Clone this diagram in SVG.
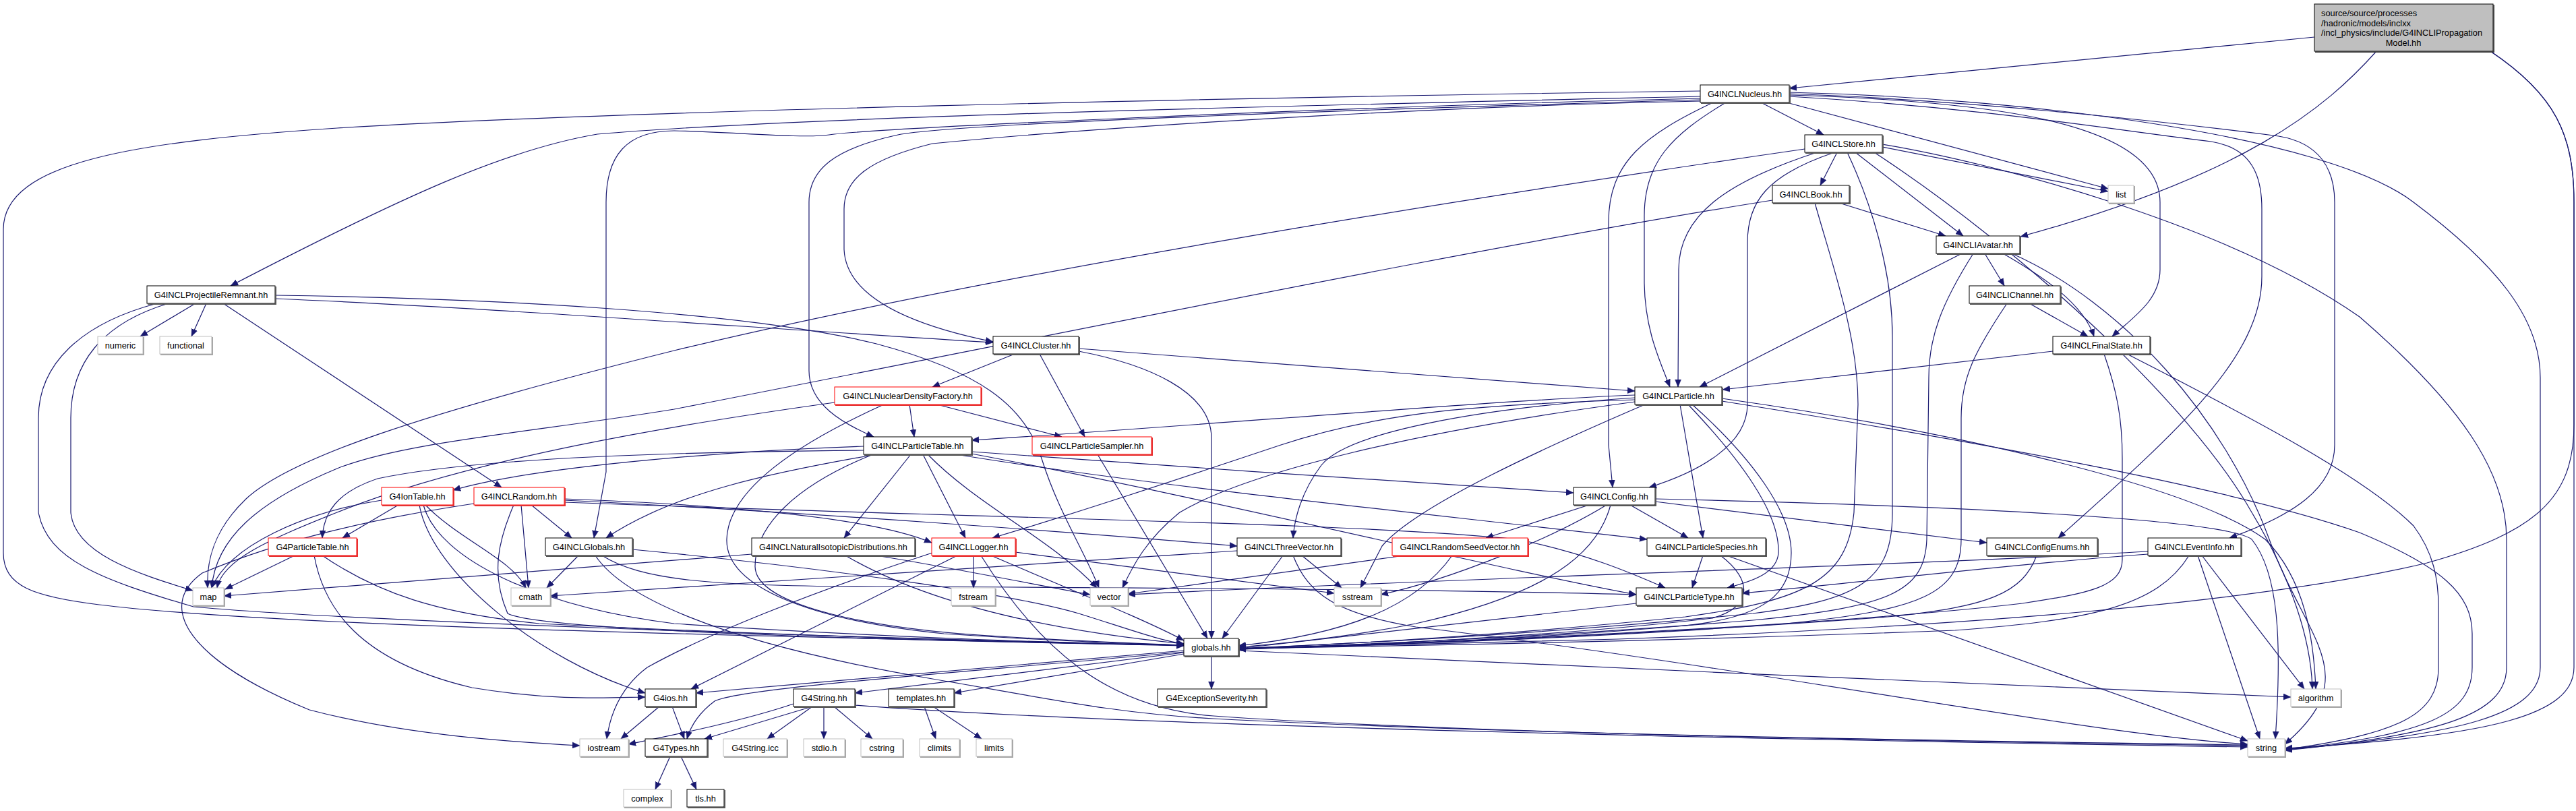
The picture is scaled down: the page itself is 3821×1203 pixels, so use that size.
<svg xmlns="http://www.w3.org/2000/svg" width="3821" height="1203" viewBox="0 0 3821 1203">
<defs>
<marker id="a" markerUnits="userSpaceOnUse" markerWidth="12" markerHeight="10" viewBox="0 -5 12 10" refX="11" refY="0" orient="auto"><path d="M0,-4.5 L11,0 L0,4.5 z" fill="#191970" stroke="#191970" stroke-width="0.5"/></marker>
</defs>
<style>
.e{fill:none;stroke:#191970;stroke-width:1.2;marker-end:url(#a)}
.nd rect{fill:#fff;stroke-width:1}
.nd .s{fill:none;stroke-width:2}
.b rect{stroke:#000}.b .s{stroke:#555}
.x rect{stroke:#bfbfbf}.x .s{stroke:#a8a8a8}
.r rect{stroke:#ff0000}.r .s{stroke:#e83030}
.g rect{fill:#bfbfbf;stroke:#000}.g .s{stroke:#404040}
text{font-family:"Liberation Sans",Arial,sans-serif;font-size:12.8px;fill:#000}
.nd text{text-anchor:middle}
.g text{text-anchor:start}
</style>
<rect x="0" y="0" width="3821" height="1203" fill="#fff"/>
<g id="edges">
<path class="e" d="M3433,55 L2654,131"/>
<path class="e" d="M3525,76 C3450,160 3330,260 2997,351"/>
<path class="e" d="M3694,76 C3790,140 3818,200 3818,300 L3818,990 C3818,1060 3700,1092 3389,1110"/>
<path class="e" d="M3694,76 C3790,140 3818,200 3818,300 L3818,630 C3818,740 3760,790 3600,835 C3350,895 2900,930 2400,948 C2100,957 1950,960 1837,962"/>
<path class="e" d="M2612,152 L2705,200"/>
<path class="e" d="M2560,152 C2480,200 2439,240 2439,320 L2439,420 C2440,490 2462,535 2477,574"/>
<path class="e" d="M2541,152 C2440,200 2386,240 2386,330 L2386,660 L2392,723"/>
<path class="e" d="M2650,152 L3127,280"/>
<path class="e" d="M2654,141 C2950,150 3204,180 3204,300 L3204,400 C3204,445 3165,470 3133,499"/>
<path class="e" d="M2654,143 C2950,160 3150,195 3280,210 C3340,220 3355,260 3355,310 L3355,410 C3355,530 3230,640 3053,798"/>
<path class="e" d="M2654,139 C2950,150 3250,185 3380,202 C3440,212 3463,250 3463,300 L3463,660 C3463,725 3400,765 3307,798"/>
<path class="e" d="M2654,137 C3000,145 3450,200 3580,300 C3700,390 3768,470 3768,560 L3768,990 C3768,1060 3650,1090 3389,1112"/>
<path class="e" d="M2522,143 C2000,155 1200,172 886,199 C750,222 600,290 342,424"/>
<path class="e" d="M2522,135 C1800,145 900,165 500,190 C200,210 5,240 5,340 L5,820 C5,870 50,885 147,897 C350,922 800,935 1200,945 C1450,951 1650,956 1756,958"/>
<path class="e" d="M2522,146 C2000,158 1300,190 1230,200 C1190,206 1080,195 1000,194 C930,194 899,230 899,300 L899,700 L881,798"/>
<path class="e" d="M2522,148 C2100,160 1420,182 1332,200 C1240,220 1200,250 1200,300 L1200,550 C1200,600 1250,628 1296,648"/>
<path class="e" d="M2522,150 C2200,156 1700,182 1383,213 C1290,236 1252,265 1252,310 L1252,370 C1255,440 1350,482 1473,507"/>
<path class="e" d="M2725,226 L2700,275"/>
<path class="e" d="M2752,226 L2912,350"/>
<path class="e" d="M2695,226 C2560,270 2490,320 2490,400 L2489,574"/>
<path class="e" d="M2721,226 C2620,260 2592,300 2592,360 L2592,600 C2592,660 2520,700 2446,723"/>
<path class="e" d="M2677,221 C2200,290 1500,400 1000,520 C620,615 430,680 365,740 C318,785 306,830 308,872"/>
<path class="e" d="M2740,226 C2775,300 2807,400 2807,500 L2807,760 C2807,860 2760,890 2600,910 C2300,940 2000,955 1837,962"/>
<path class="e" d="M2792,218 L3127,284"/>
<path class="e" d="M2792,214 C2950,240 3300,330 3500,470 C3650,600 3718,700 3718,800 L3718,990 C3718,1060 3620,1090 3389,1113"/>
<path class="e" d="M2780,226 C3000,370 3250,600 3340,760 C3400,860 3428,950 3430,1022"/>
<path class="e" d="M2728,301 L2886,350"/>
<path class="e" d="M2629,297 C2200,365 1600,490 1000,607 C800,640 600,655 500,695 C380,745 320,800 314,872"/>
<path class="e" d="M2692,301 C2720,400 2756,500 2756,600 L2750,760 C2740,860 2680,890 2500,915 C2200,945 2000,955 1837,962"/>
<path class="e" d="M2910,376 L2521,574"/>
<path class="e" d="M2927,376 C2880,450 2861,500 2861,560 L2858,800 C2855,880 2800,900 2600,920 C2300,945 2000,957 1837,963"/>
<path class="e" d="M2944,376 L2973,424"/>
<path class="e" d="M2971,376 C3030,410 3090,450 3106,499"/>
<path class="e" d="M2984,376 C3150,450 3300,620 3366,800 C3420,950 3510,1000 3389,1104"/>
<path class="e" d="M3045,521 L2555,578"/>
<path class="e" d="M3155,525 C3300,600 3500,700 3580,780 C3610,820 3617,860 3617,900 L3617,990 C3617,1060 3560,1088 3389,1112"/>
<path class="e" d="M3121,525 C3140,580 3148,620 3148,680 L3148,830 C3148,870 3100,880 3000,895 C2700,930 2100,955 1837,963"/>
<path class="e" d="M3010,450 L3097,499"/>
<path class="e" d="M2977,450 C2930,520 2909,560 2909,620 L2909,800 C2909,880 2850,905 2650,925 C2350,948 2000,958 1837,963"/>
<path class="e" d="M1505,525 L1383,574"/>
<path class="e" d="M1542,525 L1609,648"/>
<path class="e" d="M1600,517 L2425,580"/>
<path class="e" d="M1600,521 C1700,540 1797,580 1797,650 L1797,947"/>
<path class="e" d="M1349,600 L1356,648"/>
<path class="e" d="M1390,600 L1575,648"/>
<path class="e" d="M1238,597 C1000,630 700,680 500,760 C400,800 330,830 322,872"/>
<path class="e" d="M1311,600 C1200,650 1080,720 1078,800 C1076,870 1200,920 1400,940 C1550,950 1680,955 1756,957"/>
<path class="e" d="M1628,674 L1791,947"/>
<path class="e" d="M2425,586 C2200,595 1800,630 1441,653"/>
<path class="e" d="M2425,590 C2200,605 2000,640 1960,690 C1930,730 1920,770 1918,798"/>
<path class="e" d="M2425,593 C2200,600 2050,610 1900,660 C1750,710 1600,760 1472,798"/>
<path class="e" d="M2425,596 C2100,640 1850,700 1750,760 C1700,800 1680,840 1665,872"/>
<path class="e" d="M2440,600 C2300,660 2100,750 2050,810 L2018,872"/>
<path class="e" d="M2492,600 L2526,798"/>
<path class="e" d="M2504,600 C2580,680 2640,760 2638,820 C2636,850 2600,862 2562,872"/>
<path class="e" d="M2510,600 C2600,680 2657,760 2657,820 C2657,880 2620,915 2500,928 C2250,950 2000,958 1837,962"/>
<path class="e" d="M2554,595 C2900,650 3300,720 3500,790 C3620,840 3667,880 3667,940 L3667,990 C3667,1060 3600,1090 3389,1112"/>
<path class="e" d="M2554,591 C2900,640 3250,720 3360,800 C3420,860 3432,950 3435,1022"/>
<path class="e" d="M2357,749 L2204,798"/>
<path class="e" d="M2418,749 L2504,798"/>
<path class="e" d="M2455,744 L2947,805"/>
<path class="e" d="M2455,740 C2900,750 3300,770 3340,800 C3380,850 3385,950 3375,1096"/>
<path class="e" d="M2383,749 C2300,800 2150,860 2048,882"/>
<path class="e" d="M2389,749 C2370,820 2300,880 2100,925 C2000,945 1900,955 1837,960"/>
<path class="e" d="M1281,662 C1100,668 800,690 672,727"/>
<path class="e" d="M1281,668 C1000,670 700,680 560,710 C500,730 480,760 478,798"/>
<path class="e" d="M1300,674 C1150,700 1000,730 899,798"/>
<path class="e" d="M1351,674 L1252,798"/>
<path class="e" d="M1369,674 L1432,798"/>
<path class="e" d="M1376,674 C1450,750 1560,800 1627,872"/>
<path class="e" d="M1295,674 C1180,720 1120,780 1120,840 C1120,900 1300,935 1500,945 C1620,952 1700,955 1756,957"/>
<path class="e" d="M1441,670 C1700,690 2100,715 2334,731"/>
<path class="e" d="M1418,674 C1700,720 2100,760 2443,800"/>
<path class="e" d="M1441,673 C1800,740 2200,840 2427,882"/>
<path class="e" d="M591,749 L508,798"/>
<path class="e" d="M622,749 C640,850 800,980 957,1028"/>
<path class="e" d="M631,749 C680,800 760,830 780,872"/>
<path class="e" d="M628,749 C650,830 800,900 1000,925 C1300,945 1600,955 1756,957"/>
<path class="e" d="M566,742 C450,760 340,810 314,872"/>
<path class="e" d="M788,749 L848,798"/>
<path class="e" d="M837,742 C1200,760 1600,790 1835,810"/>
<path class="e" d="M837,745 C1500,770 2000,775 2250,800 C2350,820 2420,850 2470,872"/>
<path class="e" d="M703,747 C550,770 420,800 300,850 C230,900 280,980 459,1053 C600,1090 750,1100 860,1106"/>
<path class="e" d="M773,749 L784,872"/>
<path class="e" d="M762,749 C740,800 727,850 753,910 C800,935 1300,950 1756,957"/>
<path class="e" d="M837,740 C1100,750 1300,770 1382,805"/>
<path class="e" d="M437,824 L334,874"/>
<path class="e" d="M466,824 C480,900 530,980 700,1020 C820,1040 900,1035 957,1034"/>
<path class="e" d="M478,824 C560,880 650,910 800,925 C1200,945 1600,955 1756,957"/>
<path class="e" d="M858,824 L811,872"/>
<path class="e" d="M938,815 C1200,840 1500,880 1600,910 C1680,935 1720,950 1756,955"/>
<path class="e" d="M883,824 C920,880 1050,950 1383,1007 C1550,1035 1650,1058 1800,1066 C2300,1092 3000,1100 3334,1105"/>
<path class="e" d="M893,824 C950,860 1050,870 1300,870 C1800,872 2200,876 2427,882"/>
<path class="e" d="M1115,822 L332,884"/>
<path class="e" d="M1300,824 C1400,840 1550,870 1617,882"/>
<path class="e" d="M1254,824 C1350,880 1500,930 1756,955"/>
<path class="e" d="M1444,824 L1444,872"/>
<path class="e" d="M1420,824 L1025,1022"/>
<path class="e" d="M1383,820 C1200,880 1050,940 960,990 C920,1020 905,1060 900,1096"/>
<path class="e" d="M1470,824 C1600,880 1700,920 1756,950"/>
<path class="e" d="M1455,824 C1540,960 1640,1050 1800,1062 C2200,1090 3000,1102 3334,1106"/>
<path class="e" d="M1506,819 L1979,880"/>
<path class="e" d="M1903,824 L1813,947"/>
<path class="e" d="M1931,824 L1990,872"/>
<path class="e" d="M1835,817 L816,884"/>
<path class="e" d="M1918,824 C1940,880 1980,910 2100,930 C2600,990 3100,1090 3334,1104"/>
<path class="e" d="M2083,824 C1900,850 1750,870 1673,881"/>
<path class="e" d="M2154,824 C2100,900 2000,940 1837,958"/>
<path class="e" d="M2526,824 L2510,872"/>
<path class="e" d="M2552,824 C2600,860 2600,900 2540,917 C2300,945 2000,958 1837,962"/>
<path class="e" d="M2561,824 L3334,1099"/>
<path class="e" d="M3021,824 C3000,880 2950,900 2800,915 C2400,945 2000,958 1837,962"/>
<path class="e" d="M3186,818 C2800,840 2100,860 1673,882"/>
<path class="e" d="M3186,822 C3000,835 2800,860 2584,880"/>
<path class="e" d="M3247,824 C3200,900 3100,920 2900,935 C2500,950 2100,958 1837,962"/>
<path class="e" d="M3260,824 L3352,1096"/>
<path class="e" d="M3266,824 L3418,1022"/>
<path class="e" d="M2427,895 C2200,920 2000,945 1837,962"/>
<path class="e" d="M1756,965 L1032,1028"/>
<path class="e" d="M1756,968 L1268,1028"/>
<path class="e" d="M1756,970 L1415,1028"/>
<path class="e" d="M1797,973 L1797,1022"/>
<path class="e" d="M1837,965 C2300,985 3000,1020 3398,1034"/>
<path class="e" d="M1756,967 C1400,1000 1100,1020 1060,1040 C1040,1055 1025,1075 1019,1096"/>
<path class="e" d="M978,1048 L921,1096"/>
<path class="e" d="M997,1048 L1015,1096"/>
<path class="e" d="M1177,1044 C1100,1070 1000,1090 932,1104"/>
<path class="e" d="M1205,1048 L1045,1096"/>
<path class="e" d="M1205,1048 L1138,1096"/>
<path class="e" d="M1222,1048 L1222,1096"/>
<path class="e" d="M1237,1048 L1294,1096"/>
<path class="e" d="M1268,1046 C1700,1080 2800,1100 3334,1108"/>
<path class="e" d="M1371,1048 L1388,1096"/>
<path class="e" d="M1384,1048 L1456,1096"/>
<path class="e" d="M994,1122 L972,1171"/>
<path class="e" d="M1010,1122 L1033,1171"/>
<path class="e" d="M290,450 L208,499"/>
<path class="e" d="M306,450 L284,499"/>
<path class="e" d="M331,450 L744,723"/>
<path class="e" d="M250,450 C150,480 105,540 105,620 L105,760 C110,820 200,850 286,876"/>
<path class="e" d="M233,450 C120,480 57,540 57,620 L57,760 C70,830 150,860 287,900 C500,920 1200,945 1756,957"/>
<path class="e" d="M408,438 C700,442 1100,460 1300,510 C1450,550 1520,600 1545,680 C1570,760 1610,820 1630,872"/>
<path class="e" d="M408,443 C700,455 1100,485 1473,508"/>
</g>
<g id="n_root" class="nd g"><rect x="3433" y="6" width="265" height="70"/><path class="s" d="M3434,77H3699V7"/><text x="3443" y="24">source/source/processes</text><text x="3443" y="38.5">/hadronic/models/inclxx</text><text x="3443" y="53">/incl_physics/include/G4INCLIPropagation</text><text x="3565" y="67.5" style="text-anchor:middle">Model.hh</text></g>
<g id="n_nucleus" class="nd b"><rect x="2522" y="126" width="132" height="26"/><path class="s" d="M2523,153H2655V127"/><text x="2588" y="143.5">G4INCLNucleus.hh</text></g>
<g id="n_store" class="nd b"><rect x="2677" y="200" width="115" height="26"/><path class="s" d="M2678,227H2793V201"/><text x="2734.5" y="217.5">G4INCLStore.hh</text></g>
<g id="n_book" class="nd b"><rect x="2629" y="275" width="114" height="26"/><path class="s" d="M2630,302H2744V276"/><text x="2686" y="292.5">G4INCLBook.hh</text></g>
<g id="n_list" class="nd x"><rect x="3127" y="275" width="38" height="26"/><path class="s" d="M3128,302H3166V276"/><text x="3146" y="292.5">list</text></g>
<g id="n_avatar" class="nd b"><rect x="2872" y="350" width="124" height="26"/><path class="s" d="M2873,377H2997V351"/><text x="2934" y="367.5">G4INCLIAvatar.hh</text></g>
<g id="n_projrem" class="nd b"><rect x="218" y="424" width="190" height="26"/><path class="s" d="M219,451H409V425"/><text x="313" y="441.5">G4INCLProjectileRemnant.hh</text></g>
<g id="n_channel" class="nd b"><rect x="2921" y="424" width="135" height="26"/><path class="s" d="M2922,451H3057V425"/><text x="2988.5" y="441.5">G4INCLIChannel.hh</text></g>
<g id="n_numeric" class="nd x"><rect x="145" y="499" width="67" height="26"/><path class="s" d="M146,526H213V500"/><text x="178.5" y="516.5">numeric</text></g>
<g id="n_functional" class="nd x"><rect x="237" y="499" width="77" height="26"/><path class="s" d="M238,526H315V500"/><text x="275.5" y="516.5">functional</text></g>
<g id="n_cluster" class="nd b"><rect x="1473" y="499" width="127" height="26"/><path class="s" d="M1474,526H1601V500"/><text x="1536.5" y="516.5">G4INCLCluster.hh</text></g>
<g id="n_finalstate" class="nd b"><rect x="3045" y="499" width="144" height="26"/><path class="s" d="M3046,526H3190V500"/><text x="3117" y="516.5">G4INCLFinalState.hh</text></g>
<g id="n_ndf" class="nd r"><rect x="1238" y="574" width="217" height="26"/><path class="s" d="M1239,601H1456V575"/><text x="1346.5" y="591.5">G4INCLNuclearDensityFactory.hh</text></g>
<g id="n_particle" class="nd b"><rect x="2425" y="574" width="129" height="26"/><path class="s" d="M2426,601H2555V575"/><text x="2489.5" y="591.5">G4INCLParticle.hh</text></g>
<g id="n_pt" class="nd b"><rect x="1281" y="648" width="160" height="26"/><path class="s" d="M1282,675H1442V649"/><text x="1361" y="665.5">G4INCLParticleTable.hh</text></g>
<g id="n_sampler" class="nd r"><rect x="1531" y="648" width="177" height="26"/><path class="s" d="M1532,675H1709V649"/><text x="1619.5" y="665.5">G4INCLParticleSampler.hh</text></g>
<g id="n_iontable" class="nd r"><rect x="566" y="723" width="106" height="26"/><path class="s" d="M567,750H673V724"/><text x="619" y="740.5">G4IonTable.hh</text></g>
<g id="n_random" class="nd r"><rect x="703" y="723" width="134" height="26"/><path class="s" d="M704,750H838V724"/><text x="770" y="740.5">G4INCLRandom.hh</text></g>
<g id="n_config" class="nd b"><rect x="2334" y="723" width="121" height="26"/><path class="s" d="M2335,750H2456V724"/><text x="2394.5" y="740.5">G4INCLConfig.hh</text></g>
<g id="n_g4pt" class="nd r"><rect x="398" y="798" width="131" height="26"/><path class="s" d="M399,825H530V799"/><text x="463.5" y="815.5">G4ParticleTable.hh</text></g>
<g id="n_gincl" class="nd b"><rect x="809" y="798" width="129" height="26"/><path class="s" d="M810,825H939V799"/><text x="873.5" y="815.5">G4INCLGlobals.hh</text></g>
<g id="n_natiso" class="nd b"><rect x="1115" y="798" width="242" height="26"/><path class="s" d="M1116,825H1358V799"/><text x="1236" y="815.5">G4INCLNaturalIsotopicDistributions.hh</text></g>
<g id="n_logger" class="nd r"><rect x="1382" y="798" width="124" height="26"/><path class="s" d="M1383,825H1507V799"/><text x="1444" y="815.5">G4INCLLogger.hh</text></g>
<g id="n_threevec" class="nd b"><rect x="1835" y="798" width="154" height="26"/><path class="s" d="M1836,825H1990V799"/><text x="1912" y="815.5">G4INCLThreeVector.hh</text></g>
<g id="n_seedvec" class="nd r"><rect x="2065" y="798" width="201" height="26"/><path class="s" d="M2066,825H2267V799"/><text x="2165.5" y="815.5">G4INCLRandomSeedVector.hh</text></g>
<g id="n_species" class="nd b"><rect x="2443" y="798" width="176" height="26"/><path class="s" d="M2444,825H2620V799"/><text x="2531" y="815.5">G4INCLParticleSpecies.hh</text></g>
<g id="n_cenums" class="nd b"><rect x="2947" y="798" width="164" height="26"/><path class="s" d="M2948,825H3112V799"/><text x="3029" y="815.5">G4INCLConfigEnums.hh</text></g>
<g id="n_eventinfo" class="nd b"><rect x="3186" y="798" width="138" height="26"/><path class="s" d="M3187,825H3325V799"/><text x="3255" y="815.5">G4INCLEventInfo.hh</text></g>
<g id="n_map" class="nd x"><rect x="286" y="872" width="46" height="26"/><path class="s" d="M287,899H333V873"/><text x="309" y="889.5">map</text></g>
<g id="n_cmath" class="nd x"><rect x="758" y="872" width="58" height="26"/><path class="s" d="M759,899H817V873"/><text x="787" y="889.5">cmath</text></g>
<g id="n_fstream" class="nd x"><rect x="1411" y="872" width="65" height="26"/><path class="s" d="M1412,899H1477V873"/><text x="1443.5" y="889.5">fstream</text></g>
<g id="n_vector" class="nd x"><rect x="1617" y="872" width="56" height="26"/><path class="s" d="M1618,899H1674V873"/><text x="1645" y="889.5">vector</text></g>
<g id="n_sstream" class="nd x"><rect x="1979" y="872" width="69" height="26"/><path class="s" d="M1980,899H2049V873"/><text x="2013.5" y="889.5">sstream</text></g>
<g id="n_ptype" class="nd b"><rect x="2427" y="872" width="157" height="26"/><path class="s" d="M2428,899H2585V873"/><text x="2505.5" y="889.5">G4INCLParticleType.hh</text></g>
<g id="n_globals" class="nd b"><rect x="1756" y="947" width="81" height="26"/><path class="s" d="M1757,974H1838V948"/><text x="1796.5" y="964.5">globals.hh</text></g>
<g id="n_g4ios" class="nd b"><rect x="957" y="1022" width="75" height="26"/><path class="s" d="M958,1049H1033V1023"/><text x="994.5" y="1039.5">G4ios.hh</text></g>
<g id="n_g4string" class="nd b"><rect x="1177" y="1022" width="91" height="26"/><path class="s" d="M1178,1049H1269V1023"/><text x="1222.5" y="1039.5">G4String.hh</text></g>
<g id="n_templates" class="nd b"><rect x="1318" y="1022" width="97" height="26"/><path class="s" d="M1319,1049H1416V1023"/><text x="1366.5" y="1039.5">templates.hh</text></g>
<g id="n_exsev" class="nd b"><rect x="1717" y="1022" width="161" height="26"/><path class="s" d="M1718,1049H1879V1023"/><text x="1797.5" y="1039.5">G4ExceptionSeverity.hh</text></g>
<g id="n_algorithm" class="nd x"><rect x="3398" y="1022" width="74" height="26"/><path class="s" d="M3399,1049H3473V1023"/><text x="3435" y="1039.5">algorithm</text></g>
<g id="n_iostream" class="nd x"><rect x="860" y="1096" width="72" height="26"/><path class="s" d="M861,1123H933V1097"/><text x="896" y="1113.5">iostream</text></g>
<g id="n_g4types" class="nd b"><rect x="957" y="1096" width="92" height="26"/><path class="s" d="M958,1123H1050V1097"/><text x="1003" y="1113.5">G4Types.hh</text></g>
<g id="n_g4sicc" class="nd x"><rect x="1073" y="1096" width="94" height="26"/><path class="s" d="M1074,1123H1168V1097"/><text x="1120" y="1113.5">G4String.icc</text></g>
<g id="n_stdio" class="nd x"><rect x="1192" y="1096" width="61" height="26"/><path class="s" d="M1193,1123H1254V1097"/><text x="1222.5" y="1113.5">stdio.h</text></g>
<g id="n_cstring" class="nd x"><rect x="1277" y="1096" width="62" height="26"/><path class="s" d="M1278,1123H1340V1097"/><text x="1308" y="1113.5">cstring</text></g>
<g id="n_climits" class="nd x"><rect x="1364" y="1096" width="59" height="26"/><path class="s" d="M1365,1123H1424V1097"/><text x="1393.5" y="1113.5">climits</text></g>
<g id="n_limits" class="nd x"><rect x="1448" y="1096" width="53" height="26"/><path class="s" d="M1449,1123H1502V1097"/><text x="1474.5" y="1113.5">limits</text></g>
<g id="n_string" class="nd x"><rect x="3334" y="1096" width="55" height="26"/><path class="s" d="M3335,1123H3390V1097"/><text x="3361.5" y="1113.5">string</text></g>
<g id="n_complex" class="nd x"><rect x="925" y="1171" width="70" height="26"/><path class="s" d="M926,1198H996V1172"/><text x="960" y="1188.5">complex</text></g>
<g id="n_tls" class="nd b"><rect x="1019" y="1171" width="55" height="26"/><path class="s" d="M1020,1198H1075V1172"/><text x="1046.5" y="1188.5">tls.hh</text></g>
</svg>
